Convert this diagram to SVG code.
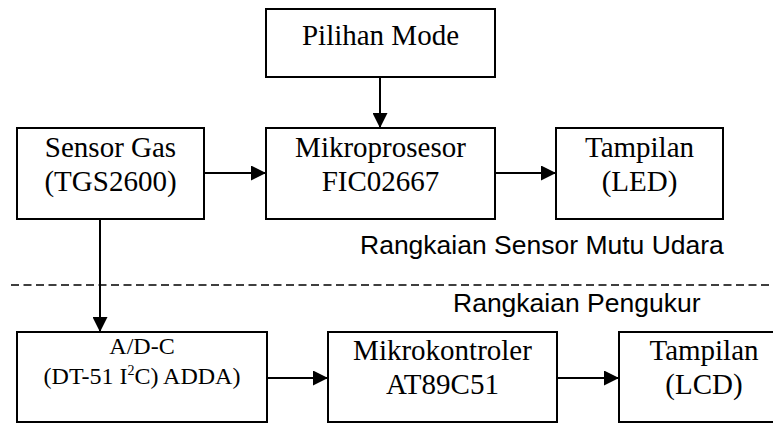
<svg xmlns="http://www.w3.org/2000/svg" width="773" height="424" viewBox="0 0 773 424">
  <style>
    .box { fill: #ffffff; stroke: #000000; stroke-width: 2; }
    .lbl { font-family: 'Liberation Serif', 'DejaVu Serif', serif; font-size: 29px; fill: #000000; text-anchor: middle; }
    .lbl-sm { font-family: 'Liberation Serif', 'DejaVu Serif', serif; font-size: 24px; fill: #000000; text-anchor: middle; }
    .cap { font-family: 'Liberation Sans', Arial, sans-serif; font-size: 26.5px; fill: #000000; }
    .wire { fill: none; stroke: #000000; stroke-width: 2; marker-end: url(#head); }
    .divider { fill: none; stroke: #000000; stroke-width: 1.3; stroke-dasharray: 8 4.5; }
  </style>
  <defs>
    <marker id="head" markerUnits="userSpaceOnUse" markerWidth="15" markerHeight="15" refX="15" refY="7.5" orient="auto">
      <path d="M0,0 L15,7.5 L0,15 Z" fill="#000000"/>
    </marker>
  </defs>

  <rect x="0" y="0" width="773" height="424" fill="#ffffff"/>

  <!-- section divider and captions -->
  <line class="divider" x1="11" y1="285" x2="773" y2="285"/>
  <text class="cap" x="360" y="254">Rangkaian Sensor Mutu Udara</text>
  <text class="cap" x="453" y="312">Rangkaian Pengukur</text>

  <g id="connectors">
    <line class="wire" x1="380" y1="77" x2="380" y2="128"/>
    <line class="wire" x1="204" y1="173" x2="266" y2="173"/>
    <line class="wire" x1="495" y1="173" x2="556" y2="173"/>
    <line class="wire" x1="100" y1="219" x2="100" y2="332"/>
    <line class="wire" x1="267" y1="378" x2="328" y2="378"/>
    <line class="wire" x1="557" y1="378" x2="619" y2="378"/>
  </g>

  <g id="pilihan-mode">
    <rect class="box" x="266" y="9" width="229" height="68"/>
    <text class="lbl" x="380.5" y="45" font-family="Liberation Serif, serif">Pilihan Mode</text>
  </g>

  <g id="sensor-gas">
    <rect class="box" x="17" y="128" width="187" height="91"/>
    <text class="lbl" x="110.5" y="157">Sensor Gas</text>
    <text class="lbl" x="110.5" y="191">(TGS2600)</text>
  </g>

  <g id="mikroprosesor">
    <rect class="box" x="266" y="128" width="229" height="91"/>
    <text class="lbl" x="380.5" y="157">Mikroprosesor</text>
    <text class="lbl" x="380.5" y="191">FIC02667</text>
  </g>

  <g id="tampilan-led">
    <rect class="box" x="556" y="128" width="167" height="91"/>
    <text class="lbl" x="639.5" y="157">Tampilan</text>
    <text class="lbl" x="639.5" y="191">(LED)</text>
  </g>

  <g id="adc">
    <rect class="box" x="17" y="332" width="250" height="90"/>
    <text class="lbl-sm" x="142" y="354">A/D-C</text>
    <text class="lbl-sm" x="142" y="384">(DT-51 I<tspan font-size="14" dy="-9">2</tspan><tspan dy="9">C) ADDA)</tspan></text>
  </g>

  <g id="mikrokontroler">
    <rect class="box" x="328" y="332" width="229" height="90"/>
    <text class="lbl" x="442.5" y="360">Mikrokontroler</text>
    <text class="lbl" x="442.5" y="394">AT89C51</text>
  </g>

  <g id="tampilan-lcd">
    <rect class="box" x="619" y="332" width="170" height="90"/>
    <text class="lbl" x="704" y="360">Tampilan</text>
    <text class="lbl" x="704" y="394">(LCD)</text>
  </g>
</svg>
